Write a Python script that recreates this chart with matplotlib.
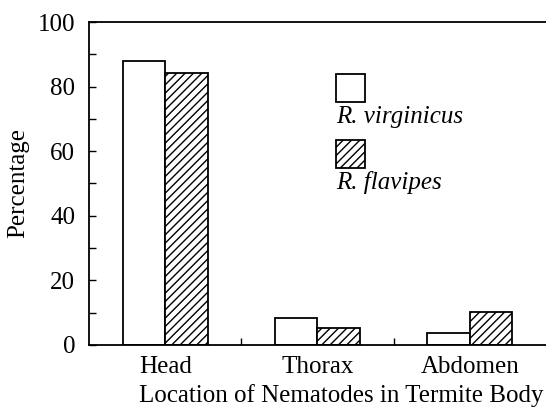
import numpy as np
import matplotlib.pyplot as plt
from matplotlib.patches import Rectangle
from matplotlib.ticker import MultipleLocator, FixedLocator

# data
locations = ["Head", "Thorax", "Abdomen"]
virginicus = [87.8, 8.5, 3.6]
flavipes = [84.1, 5.2, 10.3]
species = ["R. virginicus", "R. flavipes"]

plt.rcParams["font.family"] = ["Liberation Serif", "DejaVu Serif"]
plt.rcParams["hatch.linewidth"] = 1.0

fig = plt.figure(figsize=(5.46, 4.09), dpi=100)
ax = fig.add_axes([0.163, 0.1565, 0.837, 0.7897])

x = np.arange(len(locations))
w = 0.28
ax.bar(x - w / 2, virginicus, w, color="white", edgecolor="black", linewidth=1.3)
ax.bar(x + w / 2, flavipes, w, color="white", edgecolor="black", linewidth=1.3,
       hatch="////")

ax.set_xlim(-0.5, 2.5)
ax.set_ylim(0, 100)

# y ticks inside, minor every 10
ax.yaxis.set_major_locator(MultipleLocator(20))
ax.yaxis.set_minor_locator(MultipleLocator(10))
ax.tick_params(axis="y", which="both", direction="in", length=5, width=1,
               labelsize=18, pad=10)

# x: labels at categories, small inward ticks between them
ax.set_xticks(x)
ax.set_xticklabels(locations)
ax.xaxis.set_minor_locator(FixedLocator([0.5, 1.5]))
ax.tick_params(axis="x", which="major", length=0, labelsize=18, pad=8)
ax.tick_params(axis="x", which="minor", direction="in", length=5, width=1)

for s in ["left", "bottom", "top"]:
    ax.spines[s].set_linewidth(1.3)
ax.spines["right"].set_visible(False)

# the x label is shifted right in the original (runs up to the edge)
ax.set_xlabel("Location of Nematodes in Termite Body", fontsize=18)
ax.xaxis.set_label_coords(0.552, -0.122)
ax.set_ylabel("Percentage", fontsize=18, labelpad=6)

# legend drawn by hand: box above its italic label
hatches = [None, "////"]
for i, name in enumerate(species):
    y0 = 0.752 - i * 0.204
    ax.add_patch(Rectangle((0.540, y0), 0.0635, 0.0867, transform=ax.transAxes,
                           facecolor="white", edgecolor="black", linewidth=1.3,
                           hatch=hatches[i], clip_on=False))
    ax.text(0.540, y0 - 0.065, name, transform=ax.transAxes, fontsize=18,
            style="italic", ha="left", va="baseline")

fig.savefig("out.png", dpi=100)
